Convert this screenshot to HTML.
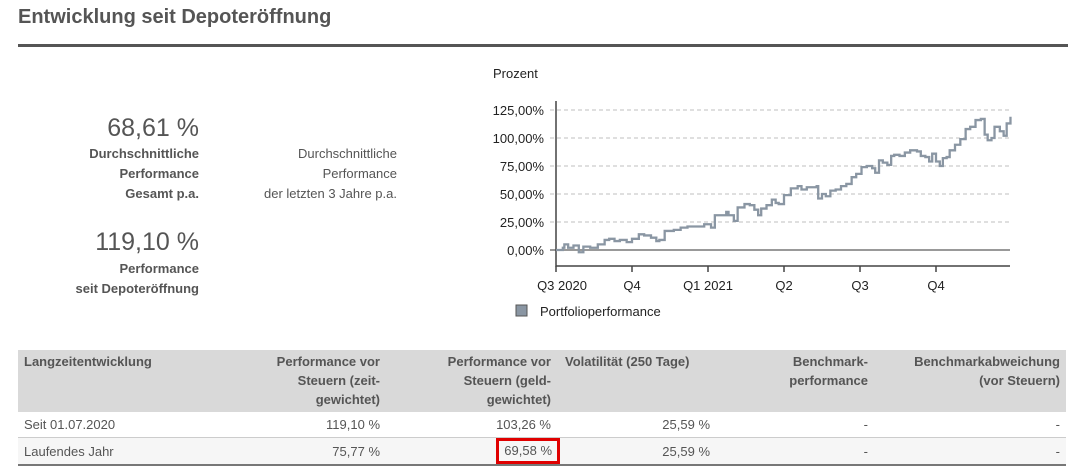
<!DOCTYPE html>
<html><head><meta charset="utf-8"><style>
body{margin:0;width:1083px;height:474px;background:#fff;font-family:"Liberation Sans",sans-serif;color:#555;position:relative;overflow:hidden}
.abs{position:absolute}
.r{text-align:right}
table{border-collapse:collapse;position:absolute;left:18px;top:350px;width:1048px;font-size:13px;table-layout:fixed}
th{background:#d9d9d9;font-weight:bold;vertical-align:top;padding:2px 6px;height:58px;line-height:19px}
td{padding:0 6px;height:25px;line-height:25px}
tr.r1 td{border-bottom:1px solid #ccc}
tr.r2 td{background:#f6f6f6;border-bottom:2px solid #777}
</style></head><body>
<div class="abs" style="left:18px;top:6px;font-size:20px;font-weight:bold;color:#555;font-family:'Liberation Sans',sans-serif">Entwicklung seit Depoteröffnung</div>
<div class="abs" style="left:18px;top:44px;width:1050px;height:3px;background:#555"></div>

<div class="abs r" style="right:884px;top:114px;font-size:25px;">68,61 %</div>
<div class="abs r" style="right:884px;top:144px;font-size:13px;font-weight:bold;line-height:20px">Durchschnittliche<br>Performance<br>Gesamt p.a.</div>
<div class="abs r" style="right:686px;top:144px;font-size:13px;line-height:20px">Durchschnittliche<br>Performance<br>der letzten 3 Jahre p.a.</div>
<div class="abs r" style="right:884px;top:228px;font-size:25px;">119,10 %</div>
<div class="abs r" style="right:884px;top:259px;font-size:13px;font-weight:bold;line-height:20px">Performance<br>seit Depoteröffnung</div>

<svg class="abs" style="left:0;top:0" width="1083" height="340" id="chart"></svg>

<table>
<colgroup><col style="width:232px"><col style="width:136px"><col style="width:171px"><col style="width:159px"><col style="width:158px"><col></colgroup>
<tr><th style="text-align:left">Langzeitentwicklung</th><th class="r">Performance vor<br>Steuern (zeit-<br>gewichtet)</th><th class="r">Performance vor<br>Steuern (geld-<br>gewichtet)</th><th style="text-align:left;padding-left:8px">Volatilität (250 Tage)</th><th class="r">Benchmark-<br>performance</th><th class="r">Benchmarkabweichung<br>(vor Steuern)</th></tr>
<tr class="r1"><td>Seit 01.07.2020</td><td class="r">119,10 %</td><td class="r">103,26 %</td><td class="r">25,59 %</td><td class="r">-</td><td class="r">-</td></tr>
<tr class="r2"><td>Laufendes Jahr</td><td class="r">75,77 %</td><td class="r"><span style="display:inline-block;border:3px solid #e00000;padding:0 5px;margin-right:-9px;line-height:20px">69,58 %</span></td><td class="r">25,59 %</td><td class="r">-</td><td class="r">-</td></tr>
</table>

<script>
const xq=[0,.09,.11,.16,.23,.30,.36,.45,.55,.64,.70,.77,.84,.93,1.0,1.09,1.16,1.25,1.32,1.36,1.43,1.55,1.64,1.73,1.84,1.95,2.04,2.09,2.18,2.24,2.27,2.34,2.39,2.48,2.55,2.61,2.66,2.70,2.77,2.84,2.89,2.93,3.0,3.09,3.18,3.23,3.30,3.39,3.43,3.45,3.50,3.55,3.61,3.68,3.75,3.82,3.89,3.95,4.02,4.09,4.16,4.20,4.25,4.30,4.36,4.41,4.45,4.52,4.59,4.66,4.75,4.80,4.86,4.91,4.95,5.0,5.05,5.09,5.14,5.18,5.25,5.32,5.39,5.45,5.52,5.59,5.64,5.68,5.73,5.77,5.84,5.89,5.93,5.98];
const values=[0,2,5,2,4,-2,3,2,5,9,10,8,9,7,10,14,13,11,8,9,17,18,20,21,21,23,20,31,31,34,31,26,38,41,40,36,31,37,40,45,42,41,49,55,57,54,56,56,57,46,50,48,53,54,57,59,65,68,74,75,73,69,80,78,76,84,85,84,87,89,88,84,83,79,86,79,75,82,83,89,94,99,108,110,116,117,103,98,100,110,106,102,113,119];
const yTicks=[0,25,50,75,100,125];
const yTickLabels=["0,00%","25,00%","50,00%","75,00%","100,00%","125,00%"];
const xTicks=[0,1,2,3,4,5];
const xTickLabels=["Q3 2020","Q4","Q1 2021","Q2","Q3","Q4"];
const svg=document.getElementById('chart');const NS='http://www.w3.org/2000/svg';
const X=q=>556+q*76, Y=v=>250-v*1.12;
function mk(t,a){const e=document.createElementNS(NS,t);for(const k in a)e.setAttribute(k,a[k]);svg.appendChild(e);return e;}
let t=mk('text',{x:493,y:78,'font-size':13,fill:'#222'});t.textContent='Prozent';

yTicks.forEach((v,i)=>{
 const g=mk('line',{x1:550,x2:1010,y1:Y(v),y2:Y(v),stroke:v===0?'#999':'#ccc','stroke-width':v===0?2:1.2,'stroke-dasharray':v===0?'':'4,3'});
 
 const l=mk('text',{x:544,y:Y(v)+5,'text-anchor':'end','font-size':13,fill:'#222'});l.textContent=yTickLabels[i];
 
});
let ax=mk('path',{d:'M556 101V266H1010',fill:'none',stroke:'#444','stroke-width':1.5});

xTicks.forEach((q,i)=>{
 const k=mk('line',{x1:X(q),x2:X(q),y1:266,y2:272,stroke:'#444','stroke-width':1.5});
 
 const l=mk('text',{x:X(q)+(i===0?6:0),y:290,'text-anchor':'middle','font-size':13,fill:'#222'});l.textContent=xTickLabels[i];
 
});
let d='';xq.forEach((q,i)=>{const px=X(q),py=Y(values[i]);if(i===0)d='M'+px+' '+py;else d+='H'+px+'V'+py;});
const ln=mk('path',{d:d,fill:'none',stroke:'#8a96a3','stroke-width':2.3});

const sq=mk('rect',{x:516,y:305,width:11,height:11,fill:'#8a96a3',stroke:'#555'});

const lt=mk('text',{x:540,y:316,'font-size':13,fill:'#222'});lt.textContent='Portfolioperformance';

</script>
</body></html>
